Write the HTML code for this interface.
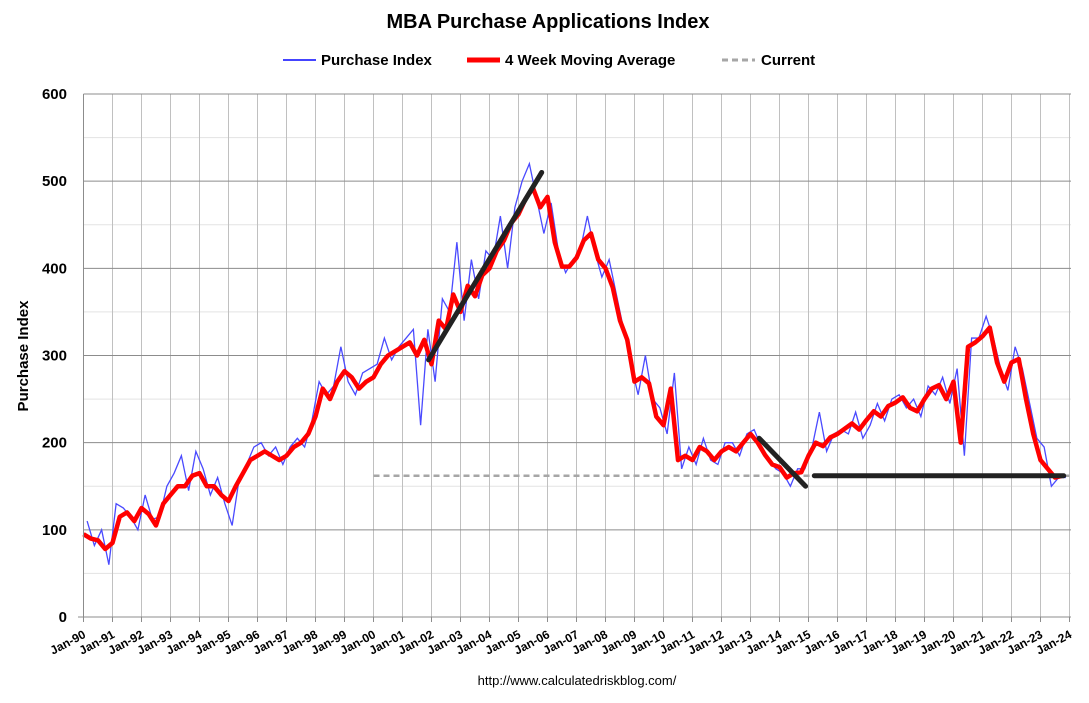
<!DOCTYPE html>
<html><head><meta charset="utf-8"><style>
body{margin:0;background:#fff;font-family:"Liberation Sans",Arial,sans-serif}
svg text{font-family:"Liberation Sans",Arial,sans-serif}
</style></head><body>
<svg id="chart" width="1089" height="698" xmlns="http://www.w3.org/2000/svg">
<text x="548" y="28" text-anchor="middle" font-size="20" font-weight="bold">MBA Purchase Applications Index</text>
<g font-size="15" font-weight="bold">
<g><line x1="283" y1="60" x2="316" y2="60" stroke="#4444ff" stroke-width="2"/><text x="321" y="65">Purchase Index</text></g>
<g><line x1="467" y1="60" x2="500" y2="60" stroke="#ff0000" stroke-width="5"/><text x="505" y="65">4 Week Moving Average</text></g>
<g><line x1="722" y1="60" x2="755" y2="60" stroke="#a6a6a6" stroke-width="3" stroke-dasharray="6,4"/><text x="761" y="65">Current</text></g>
</g>
<text transform="translate(28,356) rotate(-90)" text-anchor="middle" font-size="15" font-weight="bold">Purchase Index</text>
<g id="grid"></g><g id="series"></g><g id="axes"></g>
<text x="577" y="685" text-anchor="middle" font-size="13">http://www.calculatedriskblog.com/</text>
</svg>
<script>
const yTicks=[0,100,200,300,400,500,600];
const xYears=[1990,1991,1992,1993,1994,1995,1996,1997,1998,1999,2000,2001,2002,2003,2004,2005,2006,2007,2008,2009,2010,2011,2012,2013,2014,2015,2016,2017,2018,2019,2020,2021,2022,2023,2024];
const xLabels=xYears.map(y=>"Jan-"+String(y).slice(2));
// quarterly 4-week moving average, starting 1990.0
const maValues=[95,90,88,78, 85,115,120,110, 125,118,105,130, 140,150,150,162, 165,150,150,140, 133,150,165,180,
185,190,185,180, 185,195,200,210, 230,262,250,270, 282,275,262,270, 275,290,300,305, 310,315,300,318,
290,340,330,370, 350,380,368,392, 400,420,432,452, 462,480,492,470, 482,430,402,402, 412,432,440,410,
400,378,340,318, 270,275,268,230, 220,262,180,185, 180,195,190,180, 190,195,190,200, 210,200,186,175,
172,160,165,166, 185,200,196,206, 210,216,222,215, 226,236,230,242, 246,252,240,236, 250,262,266,250,
270,200,310,315, 322,332,292,270, 292,296,250,210, 180,170,160,162];
// purchase index sampled at quarter midpoints (1990.125 ...)
const purchaseValues=[110,82,100,60, 130,125,115,100, 140,112,115,150, 165,185,145,190, 170,140,160,130, 105,160,175,195,
200,185,195,175, 195,205,195,225, 270,255,265,310, 270,255,280,285, 290,320,295,310, 320,330,220,330,
270,365,350,430, 340,410,365,420, 410,460,400,470, 500,520,480,440, 475,420,395,410, 420,460,420,390,
410,370,330,290, 255,300,250,240, 210,280,170,195, 175,205,180,175, 200,200,185,210, 215,195,180,170,
165,150,170,170, 195,235,190,210, 215,210,235,205, 220,245,225,250, 255,240,250,230, 265,255,275,245,
285,185,320,320, 345,320,285,260, 310,285,245,205, 195,150,160,160];
const trendSegments=[[2001.9,295,2005.8,510],[2013.3,205,2014.9,150],[2015.2,162,2023.8,162]];
const currentValue=162;

const X0=83.5,X1=1069.5,Y0=617,Y1=94;
const xs=t=>X0+(t-1990)/34*(X1-X0);
const ys=v=>Y0-v/600*(Y0-Y1);
const NS="http://www.w3.org/2000/svg";
function mk(tag,attrs,parent){const e=document.createElementNS(NS,tag);for(const k in attrs)e.setAttribute(k,attrs[k]);parent.appendChild(e);return e;}
const grid=document.getElementById('grid'),series=document.getElementById('series'),axes=document.getElementById('axes');
for(let v=50;v<600;v+=100){const l=mk('line',{x1:X0,x2:1071,y1:ys(v),y2:ys(v),stroke:'#e3e3e3','stroke-width':1},grid);

}
xYears.forEach(y=>{if(y===1990)return;const l=mk('line',{x1:xs(y),x2:xs(y),y1:Y1,y2:Y0,stroke:'#c0c0c0','stroke-width':1},grid);

});
yTicks.forEach(v=>{if(v>0){const l=mk('line',{x1:X0,x2:1071,y1:ys(v),y2:ys(v),stroke:'#8c8c8c','stroke-width':1},grid);

}
const t=mk('text',{x:67,y:ys(v)+5,'text-anchor':'end','font-size':15,'font-weight':'bold'},axes);t.textContent=v;

});
const ax=mk('line',{x1:X0,x2:X0,y1:Y1,y2:Y0,stroke:'#8c8c8c'},axes);


const bx=mk('line',{x1:78,x2:1071,y1:Y0,y2:Y0,stroke:'#8c8c8c'},axes);


xYears.forEach((y,i)=>{mk('line',{x1:xs(y),x2:xs(y),y1:Y0,y2:Y0+5,stroke:'#8c8c8c'},axes);
const t=mk('text',{transform:`translate(${xs(y)+3},${Y0+20}) rotate(-28)`,'text-anchor':'end','font-size':12,'font-weight':'bold'},axes);t.textContent=xLabels[i];

});
const cur=mk('line',{x1:xs(2000),x2:1072,y1:ys(currentValue),y2:ys(currentValue),stroke:'#a6a6a6','stroke-width':2.5,'stroke-dasharray':'6,4'},series);


const bp=mk('polyline',{points:purchaseValues.map((v,i)=>xs(1990.125+i*0.25)+','+ys(v)).join(' '),fill:'none',stroke:'#4a4aff','stroke-width':1.3},series);


const mp=mk('polyline',{points:maValues.map((v,i)=>xs(1990+i*0.25)+','+ys(v)).join(' '),fill:'none',stroke:'#ff0000','stroke-width':4.5,'stroke-linejoin':'round'},series);


trendSegments.forEach(s=>{const l=mk('line',{x1:xs(s[0]),y1:ys(s[1]),x2:xs(s[2]),y2:ys(s[3]),stroke:'#222','stroke-width':5,'stroke-linecap':'round'},series);

});
</script>
</body></html>
